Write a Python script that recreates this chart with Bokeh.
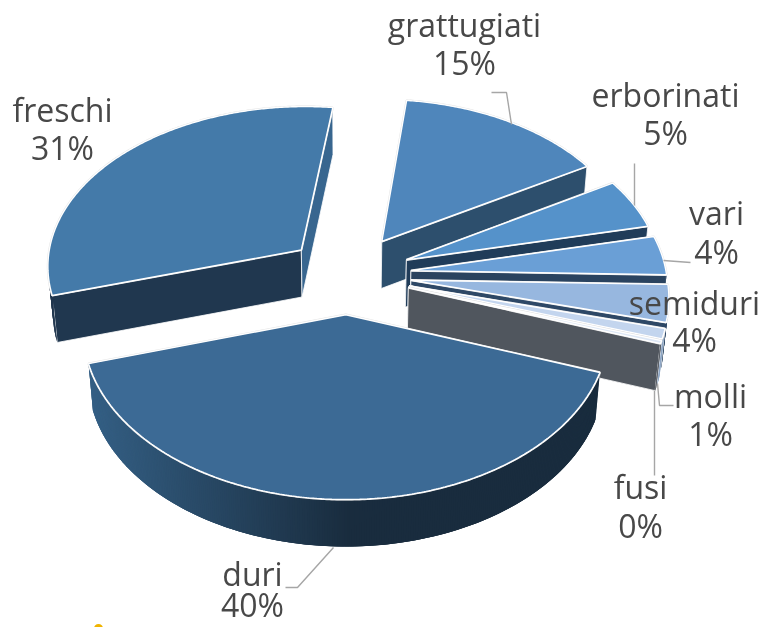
import numpy as np
from bokeh.plotting import figure
from bokeh.models import Range1d
from bokeh.core.properties import value
from bokeh.embed import file_html
from bokeh.resources import INLINE

# Data, clockwise in drawing order (back to front)
categories = ["freschi", "grattugiati", "erborinati", "vari", "semiduri", "molli", "fusi", "duri"]
shares = [31.49, 14.6, 5.0, 3.9, 3.7, 1.0, 0.3, 40.0]
pct_labels = ["31%", "15%", "5%", "4%", "4%", "1%", "0%", "40%"]
top_colors = ["#447aa9", "#4f86bb", "#5592ca", "#6a9fd6", "#97b7df", "#c3d5ee", "#dde7f5", "#3c6a95"]
start_wall = ["#20374f", "#2d4f6d", "#203c59", "#2a435f", "#2e4866", "#8ea6c4", "#50565e", "#2a4a69"]
end_wall = ["#38668f", "#2d4f6d", "#203c59", "#2a435f", "#2e4866", "#8ea6c4", "#50565e", "#2a4a69"]
explode = [0.24, 0.25, 0.25, 0.25, 0.25, 0.25, 0.25, 0.245]

# Camera / layout
FIRST_ANGLE = 253.5
XC, YC, SX, SY, PERSP = 347.0, 274.0, 255.5, 160.5, 0.09
DEPTH, LEAN = 47.0, 0.017
label_pos = {
    "freschi": (62, 109, 147), "grattugiati": (464, 24, 62), "erborinati": (665, 94, 132),
    "vari": (716, 212, 251), "semiduri": (694, 302, 339), "molli": (710, 395, 433),
    "fusi": (640, 486, 525), "duri": (252, 573, 604),
}
leaders_x = [[491, 506, 511], [634, 634], [663, 690], [657, 659, 673], [654, 654], [333, 297, 285]]
leaders_y = [[92, 92, 124], [163, 205], [260, 262], [383, 405, 405], [390, 475], [547, 587, 587]]


def top(u, v):
    d = 1 - PERSP * v
    return XC + SX * u / d, YC + SY * v / d


def bottom(u, v):
    x, y = top(u, v)
    return XC + (x - XC) * (1 - LEAN), y + DEPTH


def lerp_color(a, b, t):
    ca = [int(a[i:i + 2], 16) for i in (1, 3, 5)]
    cb = [int(b[i:i + 2], 16) for i in (1, 3, 5)]
    return "#%02x%02x%02x" % tuple(int(round(x + (y - x) * t)) for x, y in zip(ca, cb))


p = figure(width=760, height=627, x_range=Range1d(0, 760), y_range=Range1d(627, 0),
           toolbar_location=None, output_backend="svg", min_border=0,
           x_axis_location=None, y_axis_location=None, outline_line_color=None,
           background_fill_color="white", border_fill_color="white")
p.grid.visible = False
p.styles = {"position": "fixed", "left": "0px", "top": "0px"}

total = sum(shares)
angle = FIRST_ANGLE
for name, share, col, sw, ew, ex in zip(categories, shares, top_colors, start_wall, end_wall, explode):
    a0 = angle
    a1 = angle + 360.0 * share / total
    angle = a1
    mid = np.radians((a0 + a1) / 2)
    au, av = ex * np.sin(mid), -ex * np.cos(mid)
    th = np.radians(np.linspace(a0, a1, max(6, int(a1 - a0) * 2)))
    u = au + np.sin(th)
    v = av - np.cos(th)

    # side walls
    for i, wc in ((0, sw), (-1, ew)):
        bx0, by0 = bottom(au, av)
        bx1, by1 = bottom(u[i], v[i])
        tx0, ty0 = top(au, av)
        tx1, ty1 = top(u[i], v[i])
        p.patch([tx0, tx1, bx1, bx0], [ty0, ty1, by1, by0], fill_color=wc,
                line_color="white", line_width=0.8)

    # outer wall (only the part facing the viewer); overlapping strips avoid seams
    front = np.where(np.cos(th) < 0)[0]
    if len(front) > 1:
        for n, j in enumerate(front[:-1]):
            k = front[min(n + 3, len(front) - 1)]
            xa, ya = top(u[[j, k]], v[[j, k]])
            xb, yb = bottom(u[[k, j]], v[[k, j]])
            if name == "duri":
                t = np.clip((xa[0] - 90) / (350 - 90), 0, 1)
                c = lerp_color("#345f84", "#192c3e", float(t))
            else:
                c = sw
            p.patch(list(xa) + list(xb), list(ya) + list(yb), fill_color=c, line_color=None)

    # top face
    x, y = top(u, v)
    tx, ty = top(au, av)
    p.patch([tx] + list(x), [ty] + list(y), fill_color=col, line_color="#e4e4e4", line_width=2.2)
    p.patch([tx] + list(x), [ty] + list(y), fill_color=col, line_color="white", line_width=1.4)

p.multi_line(leaders_x, leaders_y, line_color="#a6a6a6", line_width=1.4)

for name, pct in zip(categories, pct_labels):
    cx, y1, y2 = label_pos[name]
    p.text([cx, cx], [y1, y2], text=[name, pct], text_align="center", text_baseline="middle",
           text_font=value("Open Sans"), text_font_size="32px", text_color="#484848")

p.scatter([98], [628], size=9, fill_color="#f0b400", line_color=None)

open("out.html", "w").write(file_html(p, INLINE))
